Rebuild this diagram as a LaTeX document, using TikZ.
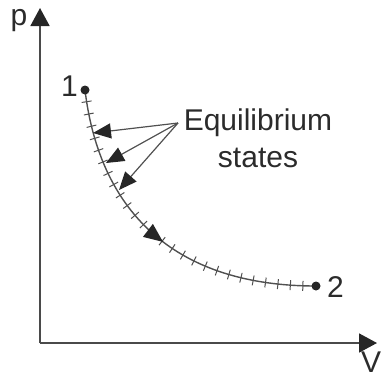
\documentclass[tikz,border=0pt]{standalone}
\usepackage{fontspec}
\setmainfont{Liberation Sans}
\usetikzlibrary{arrows.meta,decorations.markings}
\definecolor{txt}{HTML}{2B2B2B}
\definecolor{axisgray}{HTML}{4A4A4A}
\definecolor{curvegray}{HTML}{505050}
\definecolor{tipblack}{HTML}{262626}
\begin{document}
\begin{tikzpicture}[x=1pt,y=-1pt,
  axis/.style={draw=axisgray,line width=1.7pt,-{Triangle[length=18pt,width=19pt,fill=tipblack,color=tipblack]}},
  lbl/.style={font=\fontsize{30}{35}\selectfont,text=txt,inner sep=0pt},
  dot/.style={circle,fill=tipblack,inner sep=0pt,minimum size=9pt},
  curve/.style={draw=curvegray,line width=1.4pt,
    postaction={decorate,decoration={markings,
      mark=between positions 0.035 and 0.985 step 12.5pt with {\draw[curvegray,line width=1pt] (0,-5pt) -- (0,5pt);}}},
    postaction={decorate,decoration={markings,
      mark=at position 0.52 with {\arrow[tipblack]{Triangle[length=19pt,width=16pt]}}}}},
  pointer/.style={draw=curvegray,line width=1.2pt,-{Triangle[length=18pt,width=15pt,fill=tipblack,color=tipblack]}}]
\useasboundingbox (0,0) rectangle (382,378);
% axes
\coordinate (O) at (40,343);
\coordinate (Ytip) at (40,8);
\coordinate (Xtip) at (377,343);
\draw[axis] (O) -- (Ytip);
\draw[axis] (O) -- (Xtip);
\node[lbl,anchor=base] (plabel) at (19,25) {p};
\node[lbl,anchor=base] (vlabel) at (371,372) {V};
% process curve
\coordinate (P1) at (85,90);
\coordinate (P2) at (316,286);
\draw[curve] (P1) .. controls (100,215) and (178,286) .. (P2);
\node[dot] (d1) at (P1) {};
\node[dot] (d2) at (P2) {};
\node[lbl,anchor=base east] (one) at (78,96) {1};
\node[lbl,anchor=base west] (two) at (327,297) {2};
% equilibrium labels
\node[lbl,anchor=base] (eq1) at (258,130) {Equilibrium};
\node[lbl,anchor=base] (eq2) at (258,167) {states};
\coordinate (E) at (178,123);
\coordinate (T1) at (93,133);
\coordinate (T2) at (106,163);
\coordinate (T3) at (119,190);
\draw[pointer] (E) -- (T1);
\draw[pointer] (E) -- (T2);
\draw[pointer] (E) -- (T3);
\end{tikzpicture}
\end{document}
